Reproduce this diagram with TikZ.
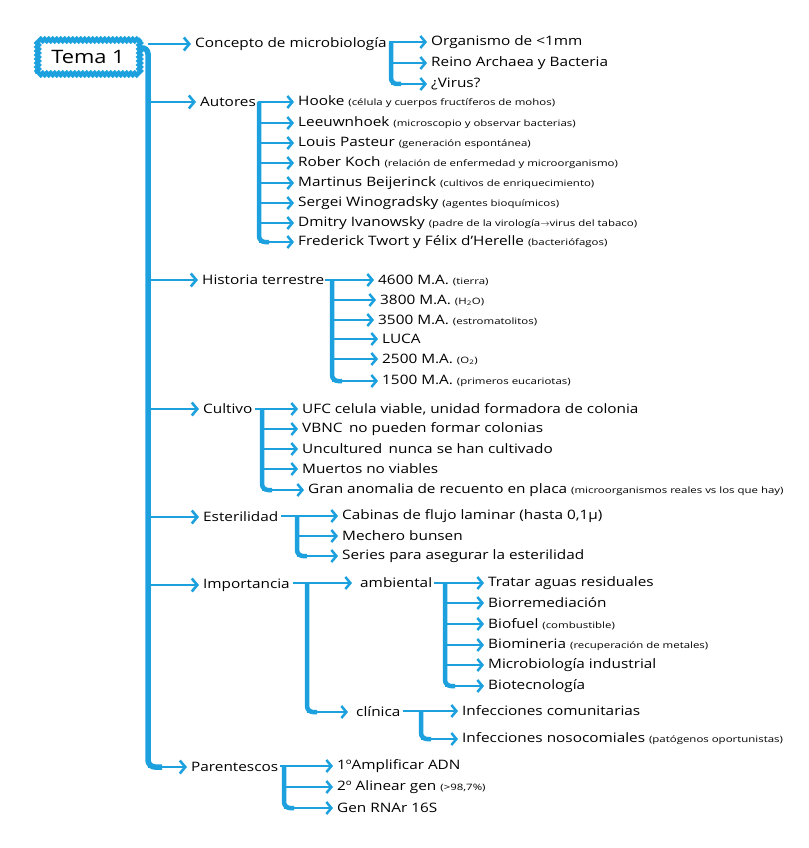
\documentclass[tikz,border=0pt]{standalone}
\usepackage{fontspec}
\setmainfont[FakeStretch=1.18]{Open Sans}
\newfontfamily\smfont[FakeStretch=1.3]{Open Sans}
\usetikzlibrary{arrows.meta,decorations.pathmorphing}
\definecolor{mblue}{RGB}{28,160,222}
\newcommand{\sm}[1]{{\smfont\fontsize{8.8}{10}\selectfont #1}}
\begin{document}
\begin{tikzpicture}[x=1pt,y=-1pt,
  txt/.style={anchor=west,inner sep=0pt,font=\fontsize{13}{15}\selectfont},
  trunk/.style={draw=mblue,line width=5.5pt,rounded corners=7pt},
  vbar/.style={draw=mblue,line width=4.5pt,rounded corners=6pt},
  mbr/.style={draw=mblue,line width=2.4pt,-{Straight Barb[length=5.5pt,width=13pt,line width=2.6pt]}},
  br/.style={draw=mblue,line width=1.8pt,-{Straight Barb[length=5pt,width=12pt,line width=2.5pt]}},
  temabox/.style={draw=mblue,line width=4.5pt,decorate,decoration={snake,amplitude=1pt,segment length=4pt},minimum width=101pt,minimum height=34pt,font=\fontsize{18.5}{22}\selectfont}
]
\useasboundingbox (0,0) rectangle (808,848);

% Title
\node[temabox] (tema) at (88,57) {Tema 1};

% Main headings
\node[txt] (c1) at (195,44) {Concepto de microbiología};
\node[txt] (c2) at (200,102) {Autores};
\node[txt] (c3) at (202,280) {Historia terrestre};
\node[txt] (c4) at (203,409) {Cultivo};
\node[txt] (c5) at (203,517) {Esterilidad};
\node[txt] (c6) at (203,585) {Importancia};
\node[txt] (c7) at (191,767) {Parentescos};

% Trunk
\coordinate (T) at (148,47);
\draw[trunk] ([yshift=9pt]tema.east) -- (T) -- (T |- c7.west) -- ++(14,0);
\foreach \n in {c1,c2,c3,c4,c5,c6,c7}
  \draw[mbr] (T |- \n.west) -- ([xshift=-4pt]\n.west);

% Concepto
\node[txt] (a1) at (431,42) {Organismo de <1mm};
\node[txt] (a2) at (431,63) {Reino Archaea y Bacteria};
\node[txt] (a3) at (431,84) {¿Virus?};
\coordinate (B1) at (391,0);
\draw[vbar] (B1 |- a1.west) -- (B1 |- a3.west) -- ++(10,0);
\draw[br] ([xshift=2pt]c1.east |- a1.west) -- ([xshift=-4pt]a1.west);
\foreach \n in {a2,a3} \draw[br] (B1 |- \n.west) -- ([xshift=-4pt]\n.west);

% Autores
\node[txt] (b1) at (298,102) {Hooke \sm{(célula y cuerpos fructíferos de mohos)}};
\node[txt] (b2) at (298,123) {Leeuwnhoek \sm{(microscopio y observar bacterias)}};
\node[txt] (b3) at (298,143) {Louis Pasteur \sm{(generación espontánea)}};
\node[txt] (b4) at (298,163) {Rober Koch \sm{(relación de enfermedad y microorganismo)}};
\node[txt] (b5) at (298,183) {Martinus Beijerinck \sm{(cultivos de enriquecimiento)}};
\node[txt] (b6) at (298,203) {Sergei Winogradsky \sm{(agentes bioquímicos)}};
\node[txt] (b7) at (298,223) {Dmitry Ivanowsky \sm{(padre de la virología$\rightarrow$virus del tabaco)}};
\node[txt] (b8) at (298,242) {Frederick Twort y Félix d'Herelle \sm{(bacteriófagos)}};
\coordinate (B2) at (259,0);
\draw[vbar] (B2 |- b1.west) -- (B2 |- b8.west) -- ++(10,0);
\draw[br] ([xshift=2pt]c2.east |- b1.west) -- ([xshift=-4pt]b1.west);
\foreach \n in {b2,b3,b4,b5,b6,b7,b8} \draw[br] (B2 |- \n.west) -- ([xshift=-4pt]\n.west);

% Historia terrestre
\node[txt] (h1) at (378,280) {4600 M.A. \sm{(tierra)}};
\node[txt] (h2) at (380,300) {3800 M.A. \sm{(H\textsubscript{2}O)}};
\node[txt] (h3) at (378,320) {3500 M.A. \sm{(estromatolitos)}};
\node[txt] (h4) at (382,339) {LUCA};
\node[txt] (h5) at (382,359) {2500 M.A. \sm{(O\textsubscript{2})}};
\node[txt] (h6) at (382,381) {1500 M.A. \sm{(primeros eucariotas)}};
\coordinate (B3) at (332,0);
\draw[vbar] (B3 |- h1.west) -- (B3 |- h6.west) -- ++(10,0);
\draw[br] ([xshift=1pt]c3.east |- h1.west) -- ([xshift=-4pt]h1.west);
\foreach \n in {h2,h3,h4,h5,h6} \draw[br] (B3 |- \n.west) -- ([xshift=-4pt]\n.west);

% Cultivo
\node[txt] (u1) at (302,409) {UFC celula viable, unidad formadora de colonia};
\node[txt] (u2) at (302,429) {VBNC\enspace no pueden formar colonias};
\node[txt] (u3) at (302,449) {Uncultured\enspace nunca se han cultivado};
\node[txt] (u4) at (302,469) {Muertos no viables};
\node[txt] (u5) at (308,490) {Gran anomalia de recuento en placa \sm{(microorganismos reales vs los que hay)}};
\coordinate (B4) at (262,0);
\draw[vbar] (B4 |- u1.west) -- (B4 |- u5.west) -- ++(10,0);
\draw[br] ([xshift=2pt]c4.east |- u1.west) -- ([xshift=-4pt]u1.west);
\foreach \n in {u2,u3,u4,u5} \draw[br] (B4 |- \n.west) -- ([xshift=-4pt]\n.west);

% Esterilidad
\node[txt] (e1) at (342,516) {Cabinas de flujo laminar (hasta 0,1µ)};
\node[txt] (e2) at (342,536) {Mechero bunsen};
\node[txt] (e3) at (342,556) {Series para asegurar la esterilidad};
\coordinate (B5) at (297,0);
\draw[vbar] (B5 |- e1.west) -- (B5 |- e3.west) -- ++(10,0);
\draw[br] ([xshift=2pt]c5.east |- e1.west) -- ([xshift=-4pt]e1.west);
\foreach \n in {e2,e3} \draw[br] (B5 |- \n.west) -- ([xshift=-4pt]\n.west);

% Importancia
\node[txt] (amb) at (360,583) {ambiental};
\node[txt] (cli) at (356,712) {clínica};
\coordinate (B6) at (307,0);
\draw[vbar] (B6 |- amb.west) -- (B6 |- cli.west) -- ++(10,0);
\draw[br] ([xshift=3pt]c6.east |- amb.west) -- ([xshift=-8pt]amb.west);
\draw[br] (B6 |- cli.west) -- ([xshift=-8pt]cli.west);

% ambiental
\node[txt] (m1) at (488,583) {Tratar aguas residuales};
\node[txt] (m2) at (488,603) {Biorremediación};
\node[txt] (m3) at (488,624) {Biofuel \sm{(combustible)}};
\node[txt] (m4) at (488,645) {Biomineria \sm{(recuperación de metales)}};
\node[txt] (m5) at (488,665) {Microbiología industrial};
\node[txt] (m6) at (488,686) {Biotecnología};
\coordinate (B7) at (445,0);
\draw[vbar] (B7 |- m1.west) -- (B7 |- m6.west) -- ++(10,0);
\draw[br] ([xshift=2pt]amb.east |- m1.west) -- ([xshift=-4pt]m1.west);
\foreach \n in {m2,m3,m4,m5,m6} \draw[br] (B7 |- \n.west) -- ([xshift=-4pt]\n.west);

% clínica
\node[txt] (k1) at (462,711) {Infecciones comunitarias};
\node[txt] (k2) at (462,739) {Infecciones nosocomiales \sm{(patógenos oportunistas)}};
\coordinate (B8) at (421,0);
\draw[vbar] (B8 |- k1.west) -- (B8 |- k2.west) -- ++(10,0);
\draw[br] ([xshift=2pt]cli.east |- k1.west) -- ([xshift=-4pt]k1.west);
\draw[br] (B8 |- k2.west) -- ([xshift=-4pt]k2.west);

% Parentescos
\node[txt] (p1) at (337,766) {1ºAmplificar ADN};
\node[txt] (p2) at (337,787) {2º Alinear gen \sm{(>98,7\%)}};
\node[txt] (p3) at (337,808) {Gen RNAr 16S};
\coordinate (B9) at (284,0);
\draw[vbar] (B9 |- p1.west) -- (B9 |- p3.west) -- ++(10,0);
\draw[br] ([xshift=2pt]c7.east |- p1.west) -- ([xshift=-4pt]p1.west);
\foreach \n in {p2,p3} \draw[br] (B9 |- \n.west) -- ([xshift=-4pt]\n.west);
\end{tikzpicture}
\end{document}
